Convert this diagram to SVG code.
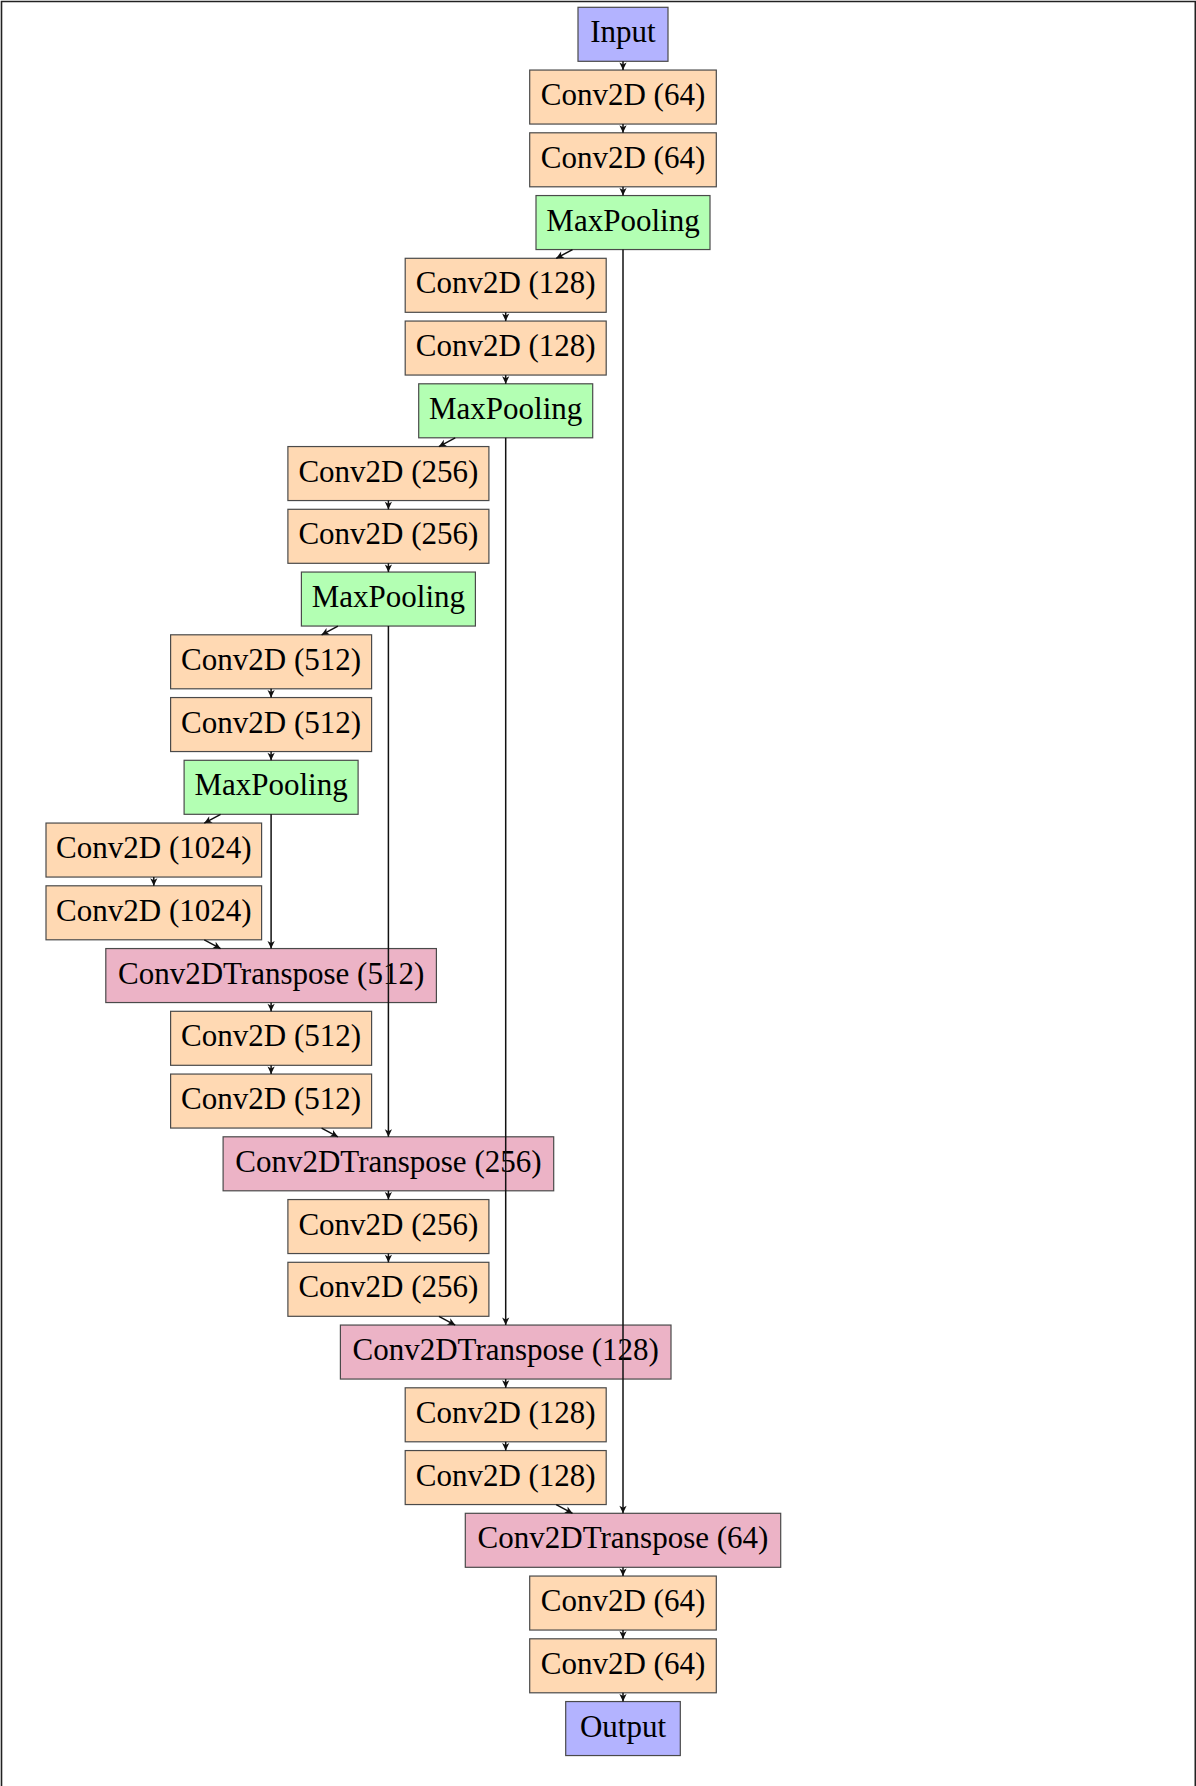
<svg xmlns="http://www.w3.org/2000/svg" width="1196" height="1786" viewBox="0 0 1196 1786">
<style>
.n rect{stroke:#4a4a4a;stroke-width:1.2}
.io rect{fill:#b3b3ff}
.cv rect{fill:#ffd9b3}
.mp rect{fill:#b3ffb3}
.tr rect{fill:#ecb3c6}
.n text{font-family:"Liberation Serif","Times New Roman",serif;font-size:31px;fill:#000;text-anchor:middle}
.e line{stroke:#111;stroke-width:1.5;marker-end:url(#ah)}
</style>
<defs>
<marker id="ah" markerUnits="userSpaceOnUse" markerWidth="10" markerHeight="10" viewBox="-8 -5 10 10" refX="0" refY="0" orient="auto" overflow="visible">
<path d="M0,0 L-7.5,-3.6 L-5.5,0 L-7.5,3.6 z" fill="#111"/>
</marker>
</defs>
<rect x="0" y="0" width="1196" height="1786" fill="#fff"/>
<path d="M1.5,1786 V1.5 H1195.3 V1786" fill="none" stroke="#222" stroke-width="1.6"/>

<g id="n0" class="n io"><rect x="578" y="7.3" width="90" height="54"/><text x="623" y="42.3">Input</text></g>
<g id="n1" class="n cv"><rect x="529.7" y="70.05" width="186.6" height="54"/><text x="623" y="105.05">Conv2D (64)</text></g>
<g id="n2" class="n cv"><rect x="529.7" y="132.8" width="186.6" height="54"/><text x="623" y="167.8">Conv2D (64)</text></g>
<g id="n3" class="n mp"><rect x="536" y="195.55" width="174" height="54"/><text x="623" y="230.55">MaxPooling</text></g>
<g id="n4" class="n cv"><rect x="405.2" y="258.3" width="201" height="54"/><text x="505.7" y="293.3">Conv2D (128)</text></g>
<g id="n5" class="n cv"><rect x="405.2" y="321.05" width="201" height="54"/><text x="505.7" y="356.05">Conv2D (128)</text></g>
<g id="n6" class="n mp"><rect x="418.7" y="383.8" width="174" height="54"/><text x="505.7" y="418.8">MaxPooling</text></g>
<g id="n7" class="n cv"><rect x="287.9" y="446.55" width="201" height="54"/><text x="388.4" y="481.55">Conv2D (256)</text></g>
<g id="n8" class="n cv"><rect x="287.9" y="509.3" width="201" height="54"/><text x="388.4" y="544.3">Conv2D (256)</text></g>
<g id="n9" class="n mp"><rect x="301.4" y="572.05" width="174" height="54"/><text x="388.4" y="607.05">MaxPooling</text></g>
<g id="n10" class="n cv"><rect x="170.6" y="634.8" width="201" height="54"/><text x="271.1" y="669.8">Conv2D (512)</text></g>
<g id="n11" class="n cv"><rect x="170.6" y="697.55" width="201" height="54"/><text x="271.1" y="732.55">Conv2D (512)</text></g>
<g id="n12" class="n mp"><rect x="184.1" y="760.3" width="174" height="54"/><text x="271.1" y="795.3">MaxPooling</text></g>
<g id="n13" class="n cv"><rect x="46" y="823.05" width="215.6" height="54"/><text x="153.8" y="858.05">Conv2D (1024)</text></g>
<g id="n14" class="n cv"><rect x="46" y="885.8" width="215.6" height="54"/><text x="153.8" y="920.8">Conv2D (1024)</text></g>
<g id="n15" class="n tr"><rect x="105.8" y="948.55" width="330.6" height="54"/><text x="271.1" y="983.55">Conv2DTranspose (512)</text></g>
<g id="n16" class="n cv"><rect x="170.6" y="1011.3" width="201" height="54"/><text x="271.1" y="1046.3">Conv2D (512)</text></g>
<g id="n17" class="n cv"><rect x="170.6" y="1074.05" width="201" height="54"/><text x="271.1" y="1109.05">Conv2D (512)</text></g>
<g id="n18" class="n tr"><rect x="223.1" y="1136.8" width="330.6" height="54"/><text x="388.4" y="1171.8">Conv2DTranspose (256)</text></g>
<g id="n19" class="n cv"><rect x="287.9" y="1199.55" width="201" height="54"/><text x="388.4" y="1234.55">Conv2D (256)</text></g>
<g id="n20" class="n cv"><rect x="287.9" y="1262.3" width="201" height="54"/><text x="388.4" y="1297.3">Conv2D (256)</text></g>
<g id="n21" class="n tr"><rect x="340.4" y="1325.05" width="330.6" height="54"/><text x="505.7" y="1360.05">Conv2DTranspose (128)</text></g>
<g id="n22" class="n cv"><rect x="405.2" y="1387.8" width="201" height="54"/><text x="505.7" y="1422.8">Conv2D (128)</text></g>
<g id="n23" class="n cv"><rect x="405.2" y="1450.55" width="201" height="54"/><text x="505.7" y="1485.55">Conv2D (128)</text></g>
<g id="n24" class="n tr"><rect x="465.3" y="1513.3" width="315.4" height="54"/><text x="623" y="1548.3">Conv2DTranspose (64)</text></g>
<g id="n25" class="n cv"><rect x="529.7" y="1576.05" width="186.6" height="54"/><text x="623" y="1611.05">Conv2D (64)</text></g>
<g id="n26" class="n cv"><rect x="529.7" y="1638.8" width="186.6" height="54"/><text x="623" y="1673.8">Conv2D (64)</text></g>
<g id="n27" class="n io"><rect x="565.7" y="1701.55" width="114.6" height="54"/><text x="623" y="1736.55">Output</text></g>

<g id="connectors" class="e">
<line x1="623" y1="61.3" x2="623" y2="70.05"/>
<line x1="623" y1="124.05" x2="623" y2="132.8"/>
<line x1="623" y1="186.8" x2="623" y2="195.55"/>
<line x1="572.5" y1="249.55" x2="556.2" y2="258.3"/>
<line x1="505.7" y1="312.3" x2="505.7" y2="321.05"/>
<line x1="505.7" y1="375.05" x2="505.7" y2="383.8"/>
<line x1="455.2" y1="437.8" x2="438.9" y2="446.55"/>
<line x1="388.4" y1="500.55" x2="388.4" y2="509.3"/>
<line x1="388.4" y1="563.3" x2="388.4" y2="572.05"/>
<line x1="337.9" y1="626.05" x2="321.6" y2="634.8"/>
<line x1="271.1" y1="688.8" x2="271.1" y2="697.55"/>
<line x1="271.1" y1="751.55" x2="271.1" y2="760.3"/>
<line x1="220.6" y1="814.3" x2="204.3" y2="823.05"/>
<line x1="153.8" y1="877.05" x2="153.8" y2="885.8"/>
<line x1="204.3" y1="939.8" x2="220.6" y2="948.55"/>
<line x1="271.1" y1="1002.55" x2="271.1" y2="1011.3"/>
<line x1="271.1" y1="1065.3" x2="271.1" y2="1074.05"/>
<line x1="321.6" y1="1128.05" x2="337.9" y2="1136.8"/>
<line x1="388.4" y1="1190.8" x2="388.4" y2="1199.55"/>
<line x1="388.4" y1="1253.55" x2="388.4" y2="1262.3"/>
<line x1="438.9" y1="1316.3" x2="455.2" y2="1325.05"/>
<line x1="505.7" y1="1379.05" x2="505.7" y2="1387.8"/>
<line x1="505.7" y1="1441.8" x2="505.7" y2="1450.55"/>
<line x1="556.2" y1="1504.55" x2="572.5" y2="1513.3"/>
<line x1="623" y1="1567.3" x2="623" y2="1576.05"/>
<line x1="623" y1="1630.05" x2="623" y2="1638.8"/>
<line x1="623" y1="1692.8" x2="623" y2="1701.55"/>
<line x1="623" y1="249.55" x2="623" y2="1513.3"/>
<line x1="505.7" y1="437.8" x2="505.7" y2="1325.05"/>
<line x1="388.4" y1="626.05" x2="388.4" y2="1136.8"/>
<line x1="271.1" y1="814.3" x2="271.1" y2="948.55"/>
</g>
</svg>
